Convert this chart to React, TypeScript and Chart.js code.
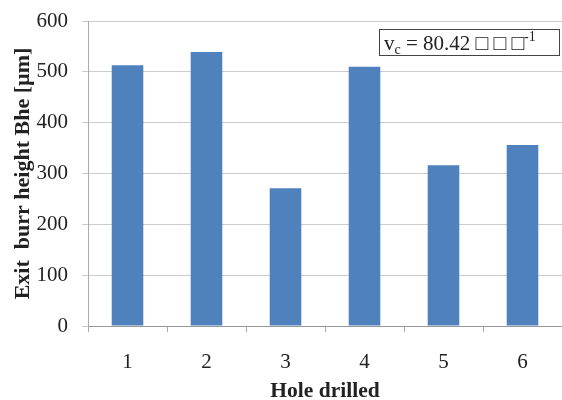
import React, { useEffect, useRef } from "react";
import { Chart, registerables } from "chart.js";

Chart.register(...registerables);

const categories = ["1", "2", "3", "4", "5", "6"];
const burrHeight = [513, 539, 271, 510, 316, 356];
const yTicks = [0, 100, 200, 300, 400, 500, 600];
const xTitle = "Hole drilled";
const yTitle = "Exit  burr height Bhe [µm]";
const noteMain = "v";
const noteSub = "c";
const noteRest = " = 80.42 □ □ □";
const noteSup = "-1";

const notePlugin = {
  id: "note",
  afterDraw(chart: any) {
    const ctx = chart.ctx;
    const a = chart.chartArea;
    const w = 180;
    const h = 26;
    const x = a.right - w - 3;
    const y = a.top + 8;
    ctx.save();
    ctx.fillStyle = "#ffffff";
    ctx.fillRect(x, y, w, h);
    ctx.strokeStyle = "#444444";
    ctx.lineWidth = 1;
    ctx.strokeRect(x + 0.5, y + 0.5, w, h);
    ctx.fillStyle = "#222222";
    ctx.textBaseline = "alphabetic";
    ctx.textAlign = "left";
    const base = y + 21;
    let cx = x + 5;
    ctx.font = "21px 'Liberation Serif', serif";
    ctx.fillText(noteMain, cx, base);
    cx += ctx.measureText(noteMain).width;
    ctx.font = "14px 'Liberation Serif', serif";
    ctx.fillText(noteSub, cx, base + 4);
    cx += ctx.measureText(noteSub).width;
    ctx.font = "21px 'Liberation Serif', serif";
    ctx.fillText(noteRest, cx, base);
    cx += ctx.measureText(noteRest).width;
    ctx.font = "14px 'Liberation Serif', serif";
    ctx.fillText(noteSup, cx, base - 9);
    ctx.restore();
  },
};

export default function App() {
  const ref = useRef<HTMLCanvasElement>(null);
  useEffect(() => {
    document.body.style.margin = "0";
    const chart = new Chart(ref.current!, {
      type: "bar",
      data: {
        labels: categories,
        datasets: [
          {
            data: burrHeight,
            backgroundColor: "#4F81BD",
            borderWidth: 0,
            barPercentage: 0.4,
            categoryPercentage: 1,
          },
        ],
      },
      options: {
        responsive: false,
        animation: false,
        layout: { padding: { left: 0, top: 21, right: 0, bottom: 0 } },
        plugins: {
          legend: { display: false },
          tooltip: { enabled: false },
        },
        scales: {
          x: {
            afterFit: (s: any) => {
              s.height = 74;
              s.paddingLeft = 0;
              s.paddingRight = 0;
            },
            grid: {
              display: true,
              drawOnChartArea: false,
              tickLength: 6,
              color: "#aaaaaa",
              offset: true,
            },
            border: { color: "#999999" },
            ticks: {
              padding: 18,
              color: "#222222",
              font: { family: "'Liberation Serif', serif", size: 21 },
            },
            title: {
              display: true,
              text: xTitle,
              color: "#222222",
              font: { family: "'Liberation Serif', serif", size: 21.5, weight: "bold" },
              padding: { top: 0, bottom: -4 },
            },
          },
          y: {
            min: 0,
            max: 600,
            afterFit: (s: any) => {
              s.width = 88;
              s.paddingTop = 0;
              s.paddingBottom = 0;
            },
            afterBuildTicks: (s: any) => {
              s.ticks = yTicks.map((v) => ({ value: v }));
            },
            grid: { color: "#cccccc", tickLength: 6 },
            border: { color: "#aaaaaa" },
            ticks: {
              padding: 14,
              color: "#222222",
              font: { family: "'Liberation Serif', serif", size: 21 },
            },
            title: {
              display: true,
              text: yTitle,
              color: "#222222",
              font: { family: "'Liberation Serif', serif", size: 22, weight: "bold" },
              padding: { top: 10, bottom: 0 },
            },
          },
        },
      },
      plugins: [notePlugin],
    });
    return () => chart.destroy();
  }, []);
  return (
    <div style={{ width: 562, height: 400 }}>
      <canvas ref={ref} width={562} height={400} />
    </div>
  );
}
